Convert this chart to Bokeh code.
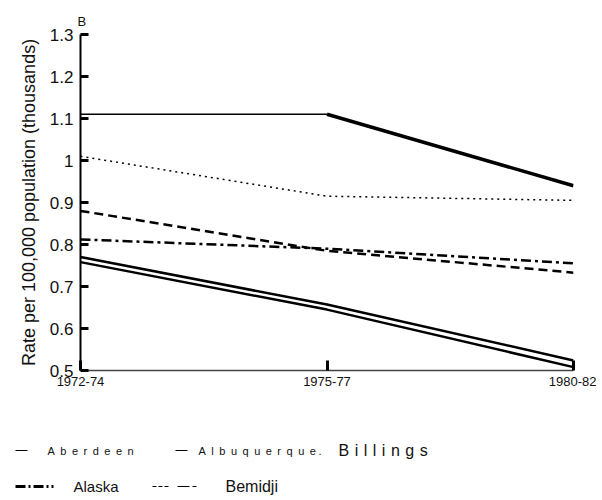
from bokeh.plotting import figure
from bokeh.models import Range1d, FixedTicker, Label, Arrow
from bokeh.layouts import column
from bokeh.embed import file_html
from bokeh.resources import INLINE

# ---------------- data ----------------
periods = ["1972-74", "1975-77", "1980-82"]
y_ticks = [0.5, 0.6, 0.7, 0.8, 0.9, 1.0, 1.1, 1.2, 1.3]
y_tick_labels = ["0.5", "0.6", "0.7", "0.8", "0.9", "1", "1.1", "1.2", "1.3"]

top_solid = [1.11, 1.11, 0.94]
billings = [1.01, 0.915, 0.905]
bemidji = [0.88, 0.785, 0.733]
alaska = [0.812, 0.79, 0.755]
aberdeen = [0.77, 0.657, 0.524]
albuquerque = [0.758, 0.645, 0.508]

x_pos = list(range(len(periods)))
FONT = "Liberation Sans"
W = 596
BL, BR = 80, 23   # frame borders shared by all rows

# ---------------- main chart ----------------
p = figure(width=W, height=404, output_backend="svg", toolbar_location=None,
           x_range=Range1d(x_pos[0], x_pos[-1]), y_range=Range1d(y_ticks[0], y_ticks[-1]),
           min_border_left=BL, min_border_right=BR, min_border_top=34, min_border_bottom=34)
p.outline_line_color = None
p.grid.visible = False

p.title.text = "B"
p.title.align = "left"
p.title.offset = -3
p.title.standoff = 12
p.title.text_font = FONT
p.title.text_font_size = "13px"
p.title.text_font_style = "normal"
p.title.text_color = "#111111"

# top solid line: thin first part, heavy second part
p.line(x_pos[:2], top_solid[:2], line_color="black", line_width=1.5)
p.line(x_pos[1:], top_solid[1:], line_color="black", line_width=3.5)
p.line(x_pos, billings, line_color="black", line_width=1.5, line_dash="2 4")
p.line(x_pos, bemidji, line_color="black", line_width=2.5, line_dash="9 5")
p.line(x_pos, alaska, line_color="black", line_width=2.5, line_dash="10 4 3 4")
p.line(x_pos, aberdeen, line_color="black", line_width=2.5)
p.line(x_pos, albuquerque, line_color="black", line_width=2.5)

# axes
p.xaxis.ticker = FixedTicker(ticks=x_pos)
p.xaxis.major_label_overrides = {x: lab for x, lab in zip(x_pos, periods)}
p.yaxis.ticker = FixedTicker(ticks=y_ticks)
p.yaxis.major_label_overrides = {t: lab for t, lab in zip(y_ticks, y_tick_labels)}
p.xaxis.minor_tick_line_color = None
p.yaxis.minor_tick_line_color = None

p.yaxis.axis_line_color = "black"
p.yaxis.axis_line_width = 2
p.yaxis.major_tick_in = 8
p.yaxis.major_tick_out = 0
p.yaxis.major_tick_line_width = 3
p.yaxis.major_tick_line_color = "black"
p.yaxis.major_label_text_font = FONT
p.yaxis.major_label_text_font_size = "17px"
p.yaxis.major_label_text_color = "#111111"
p.yaxis.major_label_standoff = 7
p.yaxis.axis_label = "Rate per 100,000 population (thousands)"
p.yaxis.axis_label_text_font = FONT
p.yaxis.axis_label_text_font_size = "18px"
p.yaxis.axis_label_text_font_style = "normal"
p.yaxis.axis_label_text_color = "#111111"
p.yaxis.axis_label_standoff = 8

p.xaxis.axis_line_color = "#444444"
p.xaxis.axis_line_width = 1.5
p.xaxis.major_tick_in = 10
p.xaxis.major_tick_out = 0
p.xaxis.major_tick_line_width = 3
p.xaxis.major_tick_line_color = "black"
p.xaxis.major_label_text_font = FONT
p.xaxis.major_label_text_font_size = "13px"
p.xaxis.major_label_text_color = "#111111"
p.xaxis.major_label_standoff = 6

# ---------------- legend rows (x in page pixels) ----------------
def legend_fig(h, extra_css=""):
    f = figure(width=W, height=h, output_backend="svg", toolbar_location=None,
               x_range=Range1d(0, W - BL - BR), y_range=Range1d(h, 0),
               x_axis_location=None, y_axis_location=None,
               min_border_left=BL, min_border_right=BR, min_border_top=0, min_border_bottom=0)
    f.outline_line_color = None
    f.grid.visible = False
    f.stylesheets = [":host { transform: translateX(-%dpx); %s }" % (BL, extra_css)]
    return f

def sample(f, x0, x1, y, width, dash="solid"):
    f.add_layout(Arrow(x_start=x0, y_start=y, x_end=x1, y_end=y, end=None,
                       line_color="black", line_width=width, line_dash=dash))

leg1 = legend_fig(60, "letter-spacing: 5.5px;")
sample(leg1, 15, 27, 46, 1)
sample(leg1, 175, 187, 46, 1)
for xx, txt, fs in [(47, "Aberdeen", "11px"), (198, "Albuquerque", "11px"),
                    (318, ".", "11px"), (338, "Billings", "16px")]:
    leg1.add_layout(Label(x=xx, y=46, text=txt, text_font=FONT, text_font_size=fs,
                          text_baseline="middle", text_color="#111111"))

leg2 = legend_fig(32)
sample(leg2, 15, 53, 22, 3, "10 3 2 3")
sample(leg2, 152, 168, 22, 1.2, "4 2")
sample(leg2, 177, 197, 22, 1.2, "12 3 4 3")
for xx, txt, fs in [(73, "Alaska", "15px"), (225, "Bemidji", "16px")]:
    leg2.add_layout(Label(x=xx, y=22, text=txt, text_font=FONT, text_font_size=fs,
                          text_baseline="middle", text_color="#111111"))

layout = column(p, leg1, leg2, spacing=0)
open("out.html", "w").write(file_html(layout, INLINE))
